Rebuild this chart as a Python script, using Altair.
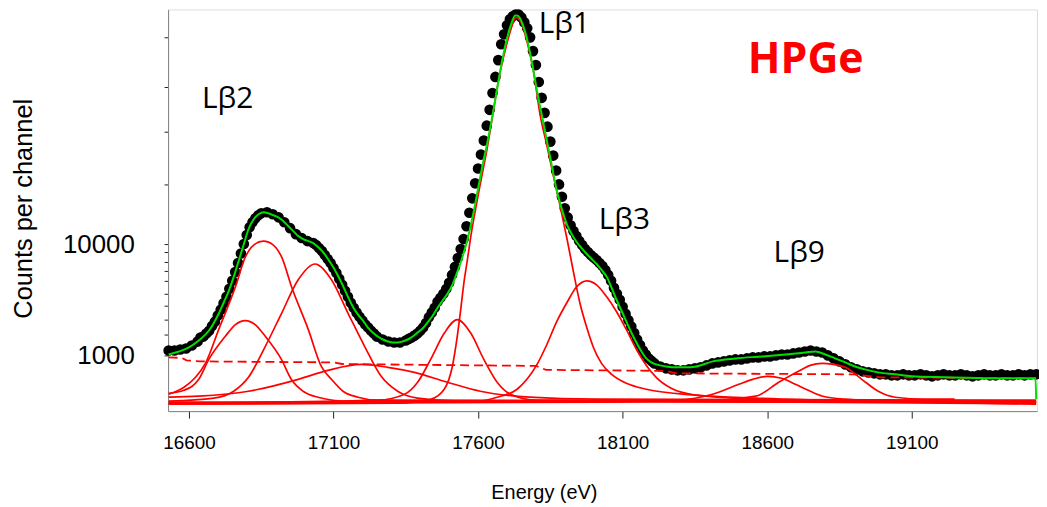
import altair as alt
import pandas as pd

# ---------------- measured data (energy in eV, counts per channel) ----------------
dot_energy = [
    16530, 16550, 16570, 16590, 16610, 16630, 16650, 16670, 16690, 16710,
    16730, 16750, 16770, 16790, 16810, 16830, 16850, 16870, 16890, 16910,
    16930, 16950, 16970, 16990, 17010, 17030, 17050, 17070, 17090, 17110,
    17130, 17150, 17170, 17190, 17210, 17230, 17250, 17270, 17290, 17310,
    17330, 17350, 17370, 17390, 17410, 17430, 17450,
    17460, 17470, 17480, 17490, 17500, 17510, 17520, 17530, 17540, 17550,
    17560, 17570, 17580, 17590, 17600, 17610, 17620, 17630, 17640, 17650,
    17660, 17670, 17680, 17690, 17700, 17710, 17720, 17730, 17740, 17750,
    17760, 17770, 17780, 17790, 17800, 17810, 17820, 17830, 17840, 17850,
    17860, 17870, 17880, 17890, 17900, 17910, 17920, 17930, 17940, 17950,
    17970, 17990, 18010, 18030, 18050, 18070, 18090, 18110, 18130, 18150,
    18170, 18190, 18210, 18230, 18250, 18270, 18290, 18310, 18330, 18350,
    18370, 18390, 18410, 18430, 18450, 18470, 18490, 18510, 18530, 18550,
    18570, 18590, 18610, 18630, 18650, 18670, 18690, 18710, 18730, 18750,
    18770, 18790, 18810, 18830, 18850, 18870, 18890, 18910, 18930, 18950,
    18970, 18990, 19010, 19030, 19050, 19070, 19090, 19110, 19130, 19150,
    19170, 19190, 19210, 19230, 19250, 19270, 19290, 19310, 19330, 19350,
    19370, 19390, 19410, 19430, 19450, 19470, 19490, 19510, 19530,
    # channels in between on the steep flanks
    16640, 16660, 16680, 16700, 16720, 16740, 16760, 16780, 16800, 16820, 16840,
    17040, 17060, 17080, 17100, 17120, 17140, 17160, 17180, 17200, 17220, 17240,
    17360, 17380, 17400, 17420, 17440,
    17960, 17980, 18000, 18020, 18040, 18060, 18080, 18100, 18120, 18140, 18160,
    18180, 18200,
]
dot_counts = [
    1102, 1102, 1125, 1148, 1222, 1326, 1472, 1660, 2005, 2572,
    3362, 4690, 6790, 10070, 14290, 17220, 19110, 19500, 18700, 17550,
    15850, 14000, 12380, 11410, 10710, 10280, 9260, 8020, 6790, 5520,
    4314, 3362, 2680, 2220, 1888, 1660, 1472, 1384, 1328, 1300,
    1300, 1356, 1442, 1567, 1774, 2200, 2680,
    3040, 3300, 3580, 3960, 4500, 5300, 6260, 7540, 9080, 11170,
    14580, 19300, 26050, 35600, 48430, 64730, 86500, 118000, 164000, 232800,
    325000, 461000, 641000, 788000, 950000, 1075000, 1146000, 1191000, 1191000, 1120000,
    1010000, 893000, 740000, 555900, 416000, 292400, 210500, 154000, 115600, 84700,
    63400, 46450, 34800, 26900, 21200, 17520, 14890, 13170, 11880, 10710,
    9080, 8020, 7228, 6380, 5300, 4050, 3162, 2360, 1810, 1384,
    1100, 934, 842, 790, 760, 744, 729, 729, 744, 760,
    776, 808, 842, 860, 878, 897, 915, 915, 934, 954,
    954, 974, 974, 994, 1014, 1014, 1036, 1057, 1079, 1102,
    1079, 1057, 994, 934, 878, 825, 776, 744, 714, 699,
    685, 671, 671, 657, 657, 671, 657, 657, 671, 657,
    644, 657, 671, 657, 657, 671, 657, 644, 657, 671,
    657, 657, 671, 657, 657, 671, 657, 671, 671,
    1442, 1567, 1830, 2275, 2940, 3970, 5630, 8280, 12130, 15850, 18320,
    9863, 8710, 7380, 6130, 4880, 3810, 2971, 2420, 2050, 1774, 1567,
    1400, 1500, 1660, 1950, 2420,
    9863, 8530, 7600, 6790, 5875, 4690, 3580, 2735, 2070, 1580, 1235,
    1014, 887,
]

fit_energy = [
    16530, 16566, 16600, 16634, 16669, 16703, 16720, 16738, 16755, 16772,
    16789, 16806, 16824, 16841, 16858, 16875, 16892, 16909, 16927, 16944,
    16961, 16978, 16995, 17013, 17030, 17047, 17064, 17081, 17099, 17116,
    17133, 17150, 17167, 17185, 17202, 17219, 17236, 17253, 17271, 17288,
    17305, 17322, 17339, 17357, 17374, 17391, 17408, 17425, 17443, 17460,
    17477, 17494, 17511, 17528, 17546, 17563, 17580, 17597, 17614, 17632,
    17649, 17666, 17683, 17700, 17718, 17728, 17735, 17745, 17759, 17769,
    17786, 17804, 17821, 17838, 17855, 17872, 17890, 17907, 17924, 17941,
    17958, 17976, 17993, 18010, 18027, 18045, 18062, 18079, 18096, 18113,
    18137, 18165, 18182, 18199, 18216, 18251, 18285, 18319, 18354, 18412,
    18491, 18584, 18663, 18732, 18766, 18801, 18835, 18870, 18904, 18938,
    18983, 19042, 19100, 19213, 19385, 19528, 19530,
]
fit_counts = [
    1014, 1079, 1173, 1355, 1660, 2366, 2971, 3807, 5088, 7080,
    9863, 13700, 16860, 18700, 19500, 19110, 18320, 17550, 16180, 14580,
    13170, 11880, 11170, 10710, 10280, 9450, 8530, 7380, 6250, 5190,
    4225, 3362, 2735, 2318, 2050, 1774, 1600, 1472, 1384, 1328,
    1300, 1300, 1328, 1384, 1472, 1600, 1738, 1966, 2270, 2680,
    3100, 3580, 4314, 5630, 7700, 10940, 17220, 29010, 49470, 82800,
    141100, 254000, 451900, 724000, 1032000, 1168000, 1168000, 1100000, 893000, 724000,
    443000, 242700, 144900, 86500, 51500, 30760, 20750, 15200, 12380, 10500,
    9260, 8185, 7380, 6650, 5875, 5088, 4050, 3162, 2520, 2005,
    1472, 1079, 934, 860, 825, 790, 776, 776, 790, 878,
    934, 974, 1014, 1057, 1079, 1014, 934, 860, 790, 744,
    699, 671, 644, 631, 618, 618, 400,
]

# fitted peak components
comp_lb2a_e = [16530, 16583, 16623, 16657, 16703, 16761, 16795, 16824, 16858, 16892,
               16921, 16955, 17013, 17058, 17093, 17133, 17185, 17253, 19530]
comp_lb2a_c = [444, 513, 631, 842, 1701, 4140, 7660, 9863, 10710, 9863,
               7660, 4140, 1701, 790, 605, 472, 417, 392, 384]
comp_lb2b_e = [16530, 16583, 16634, 16669, 16726, 16761, 16795, 16829, 16864, 16920,
               16954, 16995, 17047, 17150, 19530]
comp_lb2b_c = [453, 482, 605, 915, 1480, 1888, 2050, 1888, 1480, 915,
               605, 472, 417, 384, 376]
comp_lb15_e = [16530, 16686, 16755, 16806, 16864, 16921, 16978, 17036, 17093, 17150,
               17208, 17265, 17322, 17391, 17528, 19530]
comp_lb15_c = [384, 409, 472, 631, 1196, 2400, 4786, 6650, 4786, 2400,
               1196, 644, 472, 409, 384, 376]
comp_broad_e = [16530, 16634, 16806, 16978, 17081, 17195, 17288, 17380, 17494, 17608,
                17779, 18010, 19530]
comp_broad_c = [417, 426, 472, 605, 729, 825, 776, 699, 569, 472,
                417, 400, 392]
comp_sat_e = [16530, 17253, 17346, 17391, 17436, 17484, 17528, 17574, 17620, 17666,
              17712, 17804, 19530]
comp_sat_c = [368, 392, 444, 569, 915, 1590, 2090, 1590, 915, 569,
              444, 392, 364]
comp_lb1_e = [16530, 17322, 17436, 17483, 17511, 17528, 17540, 17551, 17563, 17573,
              17597, 17632, 17676, 17700, 17718, 17731, 17745, 17769, 17792, 17814,
              17838, 17861, 17884, 17907, 17930, 17952, 17976, 17999, 18027, 18062,
              18113, 18182, 18354, 18560, 18801, 19530]
comp_lb1_c = [361, 368, 400, 492, 790, 1472, 2572, 4500, 7228, 10940,
              25000, 74900, 355000, 654000, 950000, 1122000, 1054000, 682300, 362000, 150900,
              78000, 41000, 22070, 11410, 5630, 2971, 1774, 1173, 842, 671,
              557, 492, 435, 409, 392, 361]
comp_lb3_e = [16530, 17597, 17666, 17735, 17769, 17804, 17838, 17872, 17907, 17941,
              17976, 18010, 18045, 18079, 18113, 18148, 18182, 18216, 18268, 18354,
              18491, 18697, 19530]
comp_lb3_c = [368, 384, 417, 492, 605, 825, 1248, 2005, 2971, 4140,
              4690, 4314, 3362, 2465, 1701, 1125, 808, 631, 502, 435,
              409, 392, 376]
comp_lb9a_e = [16530, 18010, 18285, 18411, 18502, 18550, 18600, 18650, 18697, 18742,
               18789, 18870, 19042, 19530]
comp_lb9a_c = [364, 376, 392, 444, 546, 605, 644, 618, 546, 482,
               428, 400, 384, 376]
comp_lb9b_e = [16530, 18354, 18560, 18640, 18708, 18749, 18789, 18828, 18870, 18927,
               18984, 19042, 19145, 19248]
comp_lb9b_c = [376, 384, 426, 569, 714, 808, 842, 825, 776, 605,
               472, 417, 400, 400]

background_e = [16530, 16575, 16592, 16640, 17100, 17130, 17600, 17800, 17835, 18250,
                18285, 18900, 18990, 19530]
background_c = [954, 944, 897, 878, 860, 832, 808, 800, 736, 721,
                685, 671, 631, 618]

label_text = ["Lβ2", "Lβ1", "Lβ3", "Lβ9"]
label_energy = [16645, 17810, 18017, 18622]
label_counts = [170800, 805000, 13700, 6940]
tag_text = ["HPGe"]
tag_energy = [18533]
tag_counts = [354000]

x_ticks = [16600, 17100, 17600, 18100, 18600, 19100]
y_ticks = [1000, 1530, 2110, 2810, 3610, 4640, 5760, 6960, 8540, 10000,
           34700, 105000, 265000, 745000]
y_labels = [1000, 10000]

# ---------------- tables ----------------
dots = pd.DataFrame({"E": dot_energy, "C": dot_counts})
fit = pd.DataFrame({"E": fit_energy, "C": fit_counts, "o": list(range(len(fit_energy)))})
comp_list = [
    ("a", comp_lb2a_e, comp_lb2a_c), ("b", comp_lb2b_e, comp_lb2b_c),
    ("c", comp_lb15_e, comp_lb15_c), ("d", comp_broad_e, comp_broad_c),
    ("e", comp_sat_e, comp_sat_c), ("f", comp_lb1_e, comp_lb1_c),
    ("g", comp_lb3_e, comp_lb3_c), ("h", comp_lb9a_e, comp_lb9a_c),
    ("i", comp_lb9b_e, comp_lb9b_c),
]
rows = []
for name, es, cs in comp_list:
    for i, (e, c) in enumerate(zip(es, cs)):
        rows.append({"comp": name, "E": e, "C": c, "o": i})
comps = pd.DataFrame(rows)
bg = pd.DataFrame({"E": background_e, "C": background_c})
labels = pd.DataFrame({"E": label_energy, "C": label_counts, "t": label_text})
tag = pd.DataFrame({"E": tag_energy, "C": tag_counts, "t": tag_text})

FONT = "Liberation Sans"
xscale = alt.Scale(domain=[16528, 19533], nice=False, zero=False)
yscale = alt.Scale(type="log", domain=[312.4, 1322000], nice=False)

label_expr = " || ".join(f"datum.value == {v}" for v in y_labels)

xaxis = alt.Axis(
    values=x_ticks, format="d", title="Energy (eV)", grid=False,
    labelFont=FONT, labelFontSize=19, labelColor="black", labelPadding=16,
    tickSize=7, tickColor="#222", domainColor="#808080",
    titleFont=FONT, titleFontSize=20, titleFontWeight="normal", titleColor="black",
    titleX=378, titleY=88, titleBaseline="alphabetic", titleAlign="center",
)
yaxis = alt.Axis(
    values=y_ticks, labelExpr=f"({label_expr}) ? format(datum.value, 'd') : ''",
    title="Counts per channel", grid=False,
    labelFont=FONT, labelFontSize=26, labelColor="black", labelPadding=30,
    tickSize=4, tickColor="#222", domainColor="#808080",
    titleFont=FONT, titleFontSize=25.5, titleFontWeight="normal", titleColor="black",
    titleX=-137, titleY=200, titleBaseline="alphabetic", titleAlign="center", titleAngle=270,
)

base_x = alt.X("E:Q", scale=xscale, axis=xaxis)
base_y = alt.Y("C:Q", scale=yscale, axis=yaxis)

dots_layer = alt.Chart(dots).mark_circle(size=115, color="black", opacity=1).encode(
    x=base_x, y=base_y)

comp_layer = alt.Chart(comps).mark_line(color="#ff0000", strokeWidth=1.7, interpolate="monotone").encode(
    x=alt.X("E:Q", scale=xscale), y=alt.Y("C:Q", scale=yscale), detail="comp:N", order="o:Q")

bg_layer = alt.Chart(bg).mark_line(color="#ff0000", strokeWidth=1.8, strokeDash=[9, 5]).encode(
    x=alt.X("E:Q", scale=xscale), y=alt.Y("C:Q", scale=yscale))

fit_layer = alt.Chart(fit).mark_line(color="#00e000", strokeWidth=2, interpolate="monotone").encode(
    x=alt.X("E:Q", scale=xscale), y=alt.Y("C:Q", scale=yscale), order="o:Q")

label_layer = alt.Chart(labels).mark_text(
    align="left", baseline="alphabetic", font="Open Sans", fontSize=30, color="black").encode(
    x=alt.X("E:Q", scale=xscale), y=alt.Y("C:Q", scale=yscale), text="t:N")

tag_layer = alt.Chart(tag).mark_text(
    align="left", baseline="alphabetic", font="Open Sans", fontSize=43, fontWeight="bold",
    color="#ff0000").encode(
    x=alt.X("E:Q", scale=xscale), y=alt.Y("C:Q", scale=yscale), text="t:N")

chart = alt.layer(dots_layer, comp_layer, bg_layer, fit_layer, label_layer, tag_layer).properties(
    width=874, height=404,
    autosize=alt.AutoSizeParams(type="none"),
    padding={"left": 161, "top": 0, "right": 2, "bottom": 95},
).configure_view(stroke="#222", strokeWidth=1).configure(background="white")

chart.save("out.html", embed_options={"renderer": "svg", "actions": False})
